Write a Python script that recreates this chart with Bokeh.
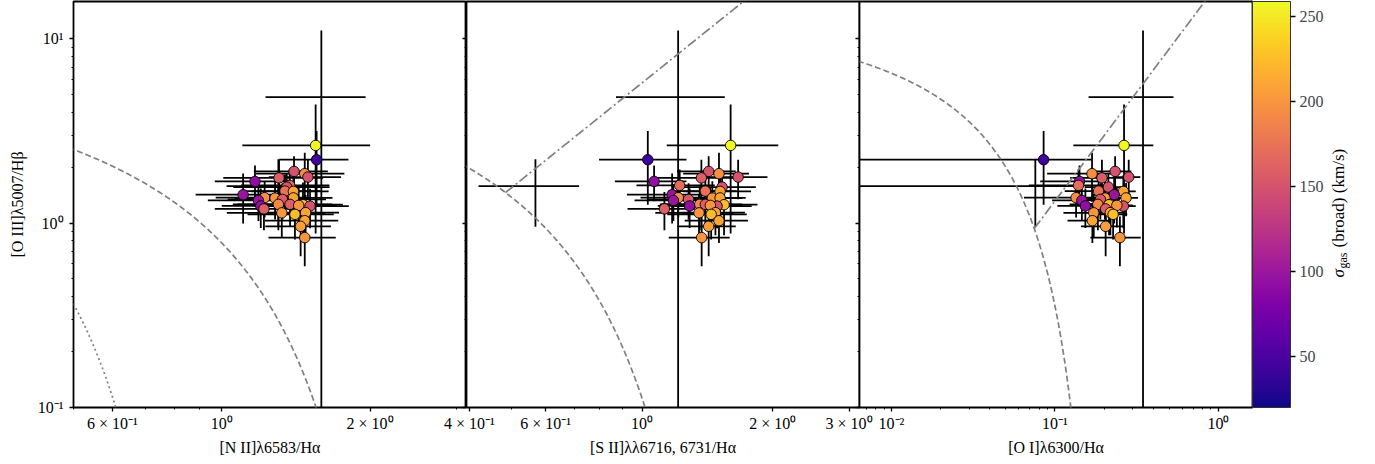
import numpy as np
from math import pi
from bokeh.plotting import figure
from bokeh.models import (Range1d, FixedTicker, CustomJSTickFormatter, ColumnDataSource,
                          LinearColorMapper, ColorBar)
from bokeh.layouts import row
from bokeh.palettes import Plasma256
from bokeh.embed import file_html
from bokeh.resources import INLINE
from bokeh.core.properties import value

NAN = float("nan")

# ---------------- data ----------------
# shared y: [O III]5007/Hbeta
oiii_hb = [4.82, 1.586, 2.637, 2.206, 1.906, 1.853, 1.776, 1.758, 1.683, 1.601, 1.567,
           1.491, 1.485, 1.425, 1.373, 1.366, 1.369, 1.344, 1.327, 1.263, 1.263, 1.258,
           1.239, 1.236, 1.247, 1.194, 1.136, 1.139, 1.115, 1.030, 0.960, 0.834]
oiii_hb_err = [6.25, 0.63, 1.76, 0.95, 0.40, 0.55, 0.43, 0.45, 0.37, 0.35, 0.30,
               0.35, 0.33, 0.43, 0.30, 0.32, 0.28, 0.30, 0.30, 0.35, 0.30, 0.40,
               0.30, 0.30, 0.30, 0.28, 0.30, 0.28, 0.30, 0.25, 0.30, 0.25]
# broad-component velocity dispersion (km/s); NaN = no marker
sigma_broad = [NAN, NAN, 258, 44, 150, 195, 150, 158, 92, 170, 150,
               175, 210, 99, 195, 200, 210, 155, 99, 190, 158, 225,
               92, 150, 200, 158, 200, 210, 225, 210, 205, 200]
nii_ha = [1.593, 1.303, 1.551, 1.558, 1.402, 1.474, 1.496, 1.307, 1.168, 1.374, 1.355,
          1.344, 1.398, 1.105, 1.222, 1.283, 1.398, 1.328, 1.187, 1.303, 1.376, 1.462,
          1.200, 1.511, 1.433, 1.218, 1.324, 1.480, 1.408, 1.474, 1.446, 1.474]
nii_ha_err = [0.366, 0.28, 0.45, 0.25, 0.24, 0.30, 0.25, 0.30, 0.20, 0.28, 0.30,
              0.25, 0.25, 0.22, 0.25, 0.22, 0.28, 0.30, 0.25, 0.25, 0.30, 0.30,
              0.20, 0.30, 0.28, 0.25, 0.30, 0.25, 0.28, 0.25, 0.22, 0.23]
sii_ha = [1.211, 0.568, 1.600, 1.031, 1.424, 1.504, 1.665, 1.370, 1.066, 1.221, 1.529,
          1.399, 1.513, 1.173, 1.212, 1.452, 1.513, 1.280, 1.181, 1.358, 1.399, 1.545,
          1.287, 1.489, 1.437, 1.126, 1.353, 1.476, 1.443, 1.504, 1.424, 1.372]
sii_ha_err = [0.34, 0.148, 0.46, 0.235, 0.22, 0.26, 0.28, 0.30, 0.20, 0.25, 0.30,
              0.25, 0.27, 0.25, 0.22, 0.25, 0.22, 0.25, 0.22, 0.25, 0.30, 0.30,
              0.20, 0.30, 0.27, 0.20, 0.28, 0.25, 0.30, 0.25, 0.22, 0.22]
oi_ha = [0.3455, 0.0758, 0.2645, 0.0852, 0.2333, 0.1685, 0.2825, 0.1937, 0.1412, 0.1392, 0.2120,
         0.1847, 0.2619, 0.2301, 0.1346, 0.2021, 0.2720, 0.1894, 0.1460, 0.1829, 0.2182, 0.2141,
         0.1534, 0.2619, 0.2390, 0.2041, 0.1726, 0.2182, 0.2268, 0.1693, 0.2041, 0.2495]
oi_ha_err = [0.185, 0.072, 0.135, 0.082, 0.06, 0.079, 0.05, 0.07, 0.06, 0.07, 0.06,
             0.07, 0.05, 0.06, 0.07, 0.06, 0.05, 0.06, 0.05, 0.06, 0.06, 0.05,
             0.05, 0.05, 0.06, 0.06, 0.06, 0.05, 0.05, 0.05, 0.06, 0.085]

y_ticks = [0.1, 1, 10]
y_minor = [0.2, 0.3, 0.4, 0.5, 0.6, 0.7, 0.8, 0.9, 2, 3, 4, 5, 6, 7, 8, 9]
y_labels = {"0.100": "10⁻¹", "1.00": "10⁰", "10.0": "10¹"}

nii_ticks = [0.6, 1, 2]
nii_minor = [0.5, 0.7, 0.8, 0.9, 3]
nii_labels = {"0.600": "6 × 10⁻¹", "1.00": "10⁰", "2.00": "2 × 10⁰"}
sii_ticks = [0.4, 0.6, 1, 2, 3]
sii_minor = [0.5, 0.7, 0.8, 0.9]
sii_labels = {"0.400": "4 × 10⁻¹", "0.600": "6 × 10⁻¹", "1.00": "10⁰",
              "2.00": "2 × 10⁰", "3.00": "3 × 10⁰"}
oi_ticks = [0.01, 0.1, 1]
oi_minor = [0.007, 0.008, 0.009, 0.02, 0.03, 0.04, 0.05, 0.06, 0.07, 0.08, 0.09,
            0.2, 0.3, 0.4, 0.5, 0.6, 0.7, 0.8, 0.9]
oi_labels = {"0.0100": "10⁻²", "0.100": "10⁻¹", "1.00": "10⁰"}
cbar_ticks = [50, 100, 150, 200, 250]
cbar_title = ["σ", "gas", "(broad) (km/s)"]

FONT = "Liberation Serif"
FS = "16px"
GREY = "#808080"
DASHED = "6 3"
DOTTED = "2 3"
DASHDOT = "10 3 2 3"
FRAME_W, FRAME_H = 393, 406
Y_RANGE = (0.1, 15.9)
SIG_RANGE = (20, 258.6)

y = np.array(oiii_hb)
ye = np.array(oiii_hb_err)
sig = np.array(sigma_broad, dtype=float)
has_marker = np.isfinite(sig)

mapper = LinearColorMapper(palette=Plasma256, low=SIG_RANGE[0], high=SIG_RANGE[1])


def fmt(mapping):
    entries = ",".join('"%s": "%s"' % (k, v) for k, v in mapping.items())
    return CustomJSTickFormatter(code="const m = {%s}; const k = tick.toPrecision(3); return (k in m) ? m[k] : '';" % entries)


def style_axis(ax, ticks, minor, labels):
    ax.ticker = FixedTicker(ticks=ticks, minor_ticks=minor)
    ax.formatter = fmt(labels) if labels else CustomJSTickFormatter(code="return '';")
    ax.major_tick_out = 4
    ax.major_tick_in = 0
    ax.minor_tick_out = 2
    ax.minor_tick_in = 0
    ax.major_tick_line_color = "black"
    ax.minor_tick_line_color = "black"
    ax.major_tick_line_width = 1.3
    ax.minor_tick_line_width = 1.0
    ax.axis_line_color = None
    ax.major_label_text_font = FONT
    ax.major_label_text_font_size = FS
    ax.major_label_text_color = "black"
    ax.axis_label_text_font = FONT
    ax.axis_label_text_font_size = FS
    ax.axis_label_text_font_style = "normal"
    ax.axis_label_text_color = "black"


def panel(xrange, xvals, xerrs, xlabel, xt, xm, xl, bl, br, ylab):
    p = figure(x_axis_type="log", y_axis_type="log",
               x_range=Range1d(*xrange), y_range=Range1d(*Y_RANGE),
               frame_width=FRAME_W, frame_height=FRAME_H,
               min_border_left=bl, min_border_right=br, min_border_top=1, min_border_bottom=49,
               output_backend="svg", toolbar_location=None, title=None)
    p.grid.visible = False
    p.outline_line_color = "black"
    p.outline_line_width = 1.8
    p.background_fill_color = "white"
    p.border_fill_color = None
    style_axis(p.xaxis[0], xt, xm, xl)
    p.xaxis[0].axis_label = xlabel
    p.xaxis[0].major_label_standoff = 3
    p.xaxis[0].axis_label_standoff = 4
    style_axis(p.yaxis[0], y_ticks, y_minor, y_labels if ylab else None)
    if ylab:
        p.yaxis[0].axis_label = "[O III]λ5007/Hβ"
        p.yaxis[0].major_label_standoff = 6
        p.yaxis[0].axis_label_standoff = 9
    else:
        p.yaxis[0].major_label_standoff = 0
        p.yaxis[0].axis_label_standoff = 0

    x = np.array(xvals)
    xe = np.array(xerrs)
    src = ColumnDataSource(dict(
        x=x, y=y,
        x0=np.clip(x - xe, 1e-6, None), x1=x + xe,
        y0=np.clip(y - ye, 1e-6, None), y1=y + ye,
    ))
    p.segment(x0="x0", y0="y", x1="x1", y1="y", source=src, line_color="black", line_width=1.8)
    p.segment(x0="x", y0="y0", x1="x", y1="y1", source=src, line_color="black", line_width=1.8)
    msrc = ColumnDataSource(dict(x=x[has_marker], y=y[has_marker], sigma=sig[has_marker]))
    p.scatter(x="x", y="y", source=msrc, marker="circle", size=10.5,
              fill_color={"field": "sigma", "transform": mapper},
              line_color="black", line_width=0.9)
    return p


# Panel 1: [N II]
p1 = panel((0.5, 3.14), nii_ha, nii_ha_err, "[N II]λ6583/Hα",
           nii_ticks, nii_minor, nii_labels, 73, 0, True)
p1.border_fill_color = "white"
xk = np.linspace(np.log10(0.5) - 0.01, 0.21, 300)
p1.line(10 ** xk, 10 ** (0.61 / (xk - 0.47) + 1.19), line_color=GREY, line_width=1.7, line_dash=DASHED)
xf = np.linspace(np.log10(0.5) - 0.01, -0.19, 200)
p1.line(10 ** xf, 10 ** (0.61 / (xf - 0.05) + 1.3), line_color=GREY, line_width=1.7, line_dash=DOTTED)

# Panel 2: [S II]
p2 = panel((0.394, 3.17), sii_ha, sii_ha_err, "[S II]λλ6716, 6731/Hα",
           sii_ticks, sii_minor, sii_labels, 40, 35, False)
xs = np.linspace(np.log10(0.394) - 0.01, 0.06, 300)
p2.line(10 ** xs, 10 ** (0.72 / (xs - 0.32) + 1.30), line_color=GREY, line_width=1.7, line_dash=DASHED)
xl = np.linspace(-0.3146, 0.3, 100)
p2.line(10 ** xl, 10 ** (1.89 * xl + 0.76), line_color=GREY, line_width=1.7, line_dash=DASHDOT)

# Panel 3: [O I]
p3 = panel((0.00637, 1.615), oi_ha, oi_ha_err, "[O I]λ6300/Hα",
           oi_ticks, oi_minor, oi_labels, 10, 78, False)
xo = np.linspace(np.log10(0.00637) - 0.01, -0.84, 300)
p3.line(10 ** xo, 10 ** (0.73 / (xo + 0.59) + 1.33), line_color=GREY, line_width=1.7, line_dash=DASHED)
xl3 = np.linspace(-1.127, 0.0, 100)
p3.line(10 ** xl3, 10 ** (1.18 * xl3 + 1.30), line_color=GREY, line_width=1.7, line_dash=DASHDOT)

# colour bar
cb = ColorBar(color_mapper=mapper, ticker=FixedTicker(ticks=cbar_ticks),
              orientation="vertical", width=38, height=FRAME_H, location="top_left",
              padding=0, margin=0, title=None,
              major_tick_out=5, major_tick_in=0, major_tick_line_color="black",
              major_tick_line_width=1.3, minor_tick_line_color=None,
              label_standoff=4, major_label_text_font=FONT, major_label_text_font_size=FS,
              bar_line_color="#333333", bar_line_width=1,
              border_line_color=None, background_fill_color=None)
p3.add_layout(cb, "right")

# colour-bar title, rotated, in a slim frame of its own
p4 = figure(frame_width=40, frame_height=FRAME_H, x_range=Range1d(0, 40), y_range=Range1d(0, FRAME_H),
            min_border_left=0, min_border_right=0, min_border_top=1, min_border_bottom=49,
            x_axis_location=None, y_axis_location=None, output_backend="svg",
            toolbar_location=None, title=None)
p4.grid.visible = False
p4.outline_line_color = None
p4.background_fill_color = None
p4.border_fill_color = None
p4.text(x=[8], y=[130], text=[cbar_title[0]], angle=pi / 2, text_align="left", text_baseline="middle",
        text_font=value(FONT), text_font_size="17px", text_font_style="italic", text_color="black")
p4.text(x=[12], y=[139], text=[cbar_title[1]], angle=pi / 2, text_align="left", text_baseline="middle",
        text_font=value(FONT), text_font_size="12px", text_color="black")
p4.text(x=[8], y=[160], text=[cbar_title[2]], angle=pi / 2, text_align="left", text_baseline="middle",
        text_font=value(FONT), text_font_size="17px", text_color="black")

p2.margin = (0, 0, 0, -40)
p3.margin = (0, 0, 0, -45)

layout = row(p1, p2, p3, p4)
open("out.html", "w").write(file_html(layout, INLINE))
